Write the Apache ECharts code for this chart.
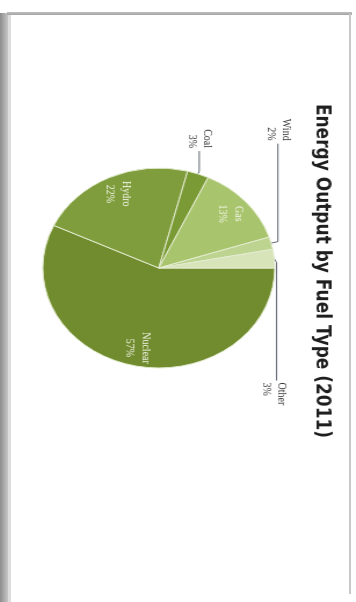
<!DOCTYPE html>
<html>
<head>
<meta charset="utf-8">
<script src="https://cdn.jsdelivr.net/npm/echarts@6.0.0/dist/echarts.min.js"></script>
<style>
  html, body { margin: 0; padding: 0; width: 356px; height: 602px; overflow: hidden; background: #fff; }
  /* the photo shows the chart turned a quarter turn and a little stretched */
  #main { position: absolute; left: 356px; top: 0; width: 602px; height: 307px;
          transform-origin: 0 0; transform: rotate(90deg) scaleY(1.16); }
  .edge { position: absolute; pointer-events: none; }
</style>
</head>
<body>
<div id="main"></div>
<div class="edge" style="left:0;top:13px;width:8px;height:589px;background:linear-gradient(to right,#8c8c8c,#c6c6c6)"></div>
<div class="edge" style="left:7px;top:12px;width:345px;height:3px;background:linear-gradient(#c0c0c0,#a4a4a4)"></div>
<div class="edge" style="left:8px;top:15px;width:3px;height:587px;background:#dcdcdc"></div>
<div class="edge" style="left:349px;top:14px;width:2px;height:580px;background:#c9c9c9"></div>
<script>
// 数据
var fuelNames = ['Nuclear', 'Hydro', 'Coal', 'Gas', 'Wind', 'Other'];
var fuelShares = [57, 22, 3, 13, 2, 3];
var insideNames = ['Nuclear', 'Hydro', 'Gas'];

var sliceColors = ['#718c2f', '#7f9d3d', '#7a9a36', '#a8c46c', '#bdd490', '#d7e4b9'];

var myChart = echarts.init(document.getElementById('main'));

var pieCenter = [268, 170];

myChart.setOption({
  title: {
    text: 'Energy Output by Fuel Type (2011)',
    left: 266,
    top: 16,
    textAlign: 'center',
    textStyle: { fontFamily: 'DejaVu Sans', fontWeight: 'bold', fontSize: 17, color: '#1e1e1e' }
  },
  series: [
    {
      // 扇区 + 外部标签
      type: 'pie',
      center: pieCenter,
      radius: [0, 100],
      startAngle: 90,
      clockwise: true,
      avoidLabelOverlap: false,
      itemStyle: { borderColor: '#e3ebcf', borderWidth: 1 },
      label: {
        position: 'outside',
        formatter: '{b}\n{c}%',
        fontFamily: 'Liberation Serif',
        fontSize: 10,
        lineHeight: 13,
        color: '#3a3a3a',
        distanceToLabelLine: 3
      },
      labelLine: { length: 3, length2: 20, smooth: false, lineStyle: { color: '#5e6470', width: 1 } },
      labelLayout: function (p) {
        if (fuelNames[p.dataIndex] !== 'Other' || !p.labelLinePoints) return {};
        var s = p.labelLinePoints[0];
        var y = s[1] - 2;
        return {
          x: s[0] + 124, y: y + 2, align: 'left', verticalAlign: 'middle',
          labelLinePoints: [s, [s[0] + 4, y], [s[0] + 122, y]]
        };
      },
      data: fuelNames.map(function (n, i) {
        var inside = insideNames.indexOf(n) >= 0;
        var item = {
          name: n, value: fuelShares[i],
          itemStyle: { color: sliceColors[i] },
          label: { show: !inside },
          labelLine: { show: !inside }
        };
        if (n === 'Wind') item.labelLine = { show: true, length: 6, length2: 98 };
        return item;
      })
    },
    {
      // 内部标签（透明层）
      type: 'pie',
      center: pieCenter,
      radius: [58, 100],
      startAngle: 90,
      clockwise: true,
      silent: true,
      itemStyle: { color: 'transparent', borderWidth: 0 },
      label: {
        position: 'inside',
        formatter: '{b}\n{c}%',
        fontFamily: 'Liberation Serif',
        fontSize: 10,
        lineHeight: 14,
        color: '#eef3e2'
      },
      labelLine: { show: false },
      data: fuelNames.map(function (n, i) {
        return { name: n, value: fuelShares[i], label: { show: insideNames.indexOf(n) >= 0 } };
      })
    }
  ]
});
</script>
</body>
</html>
